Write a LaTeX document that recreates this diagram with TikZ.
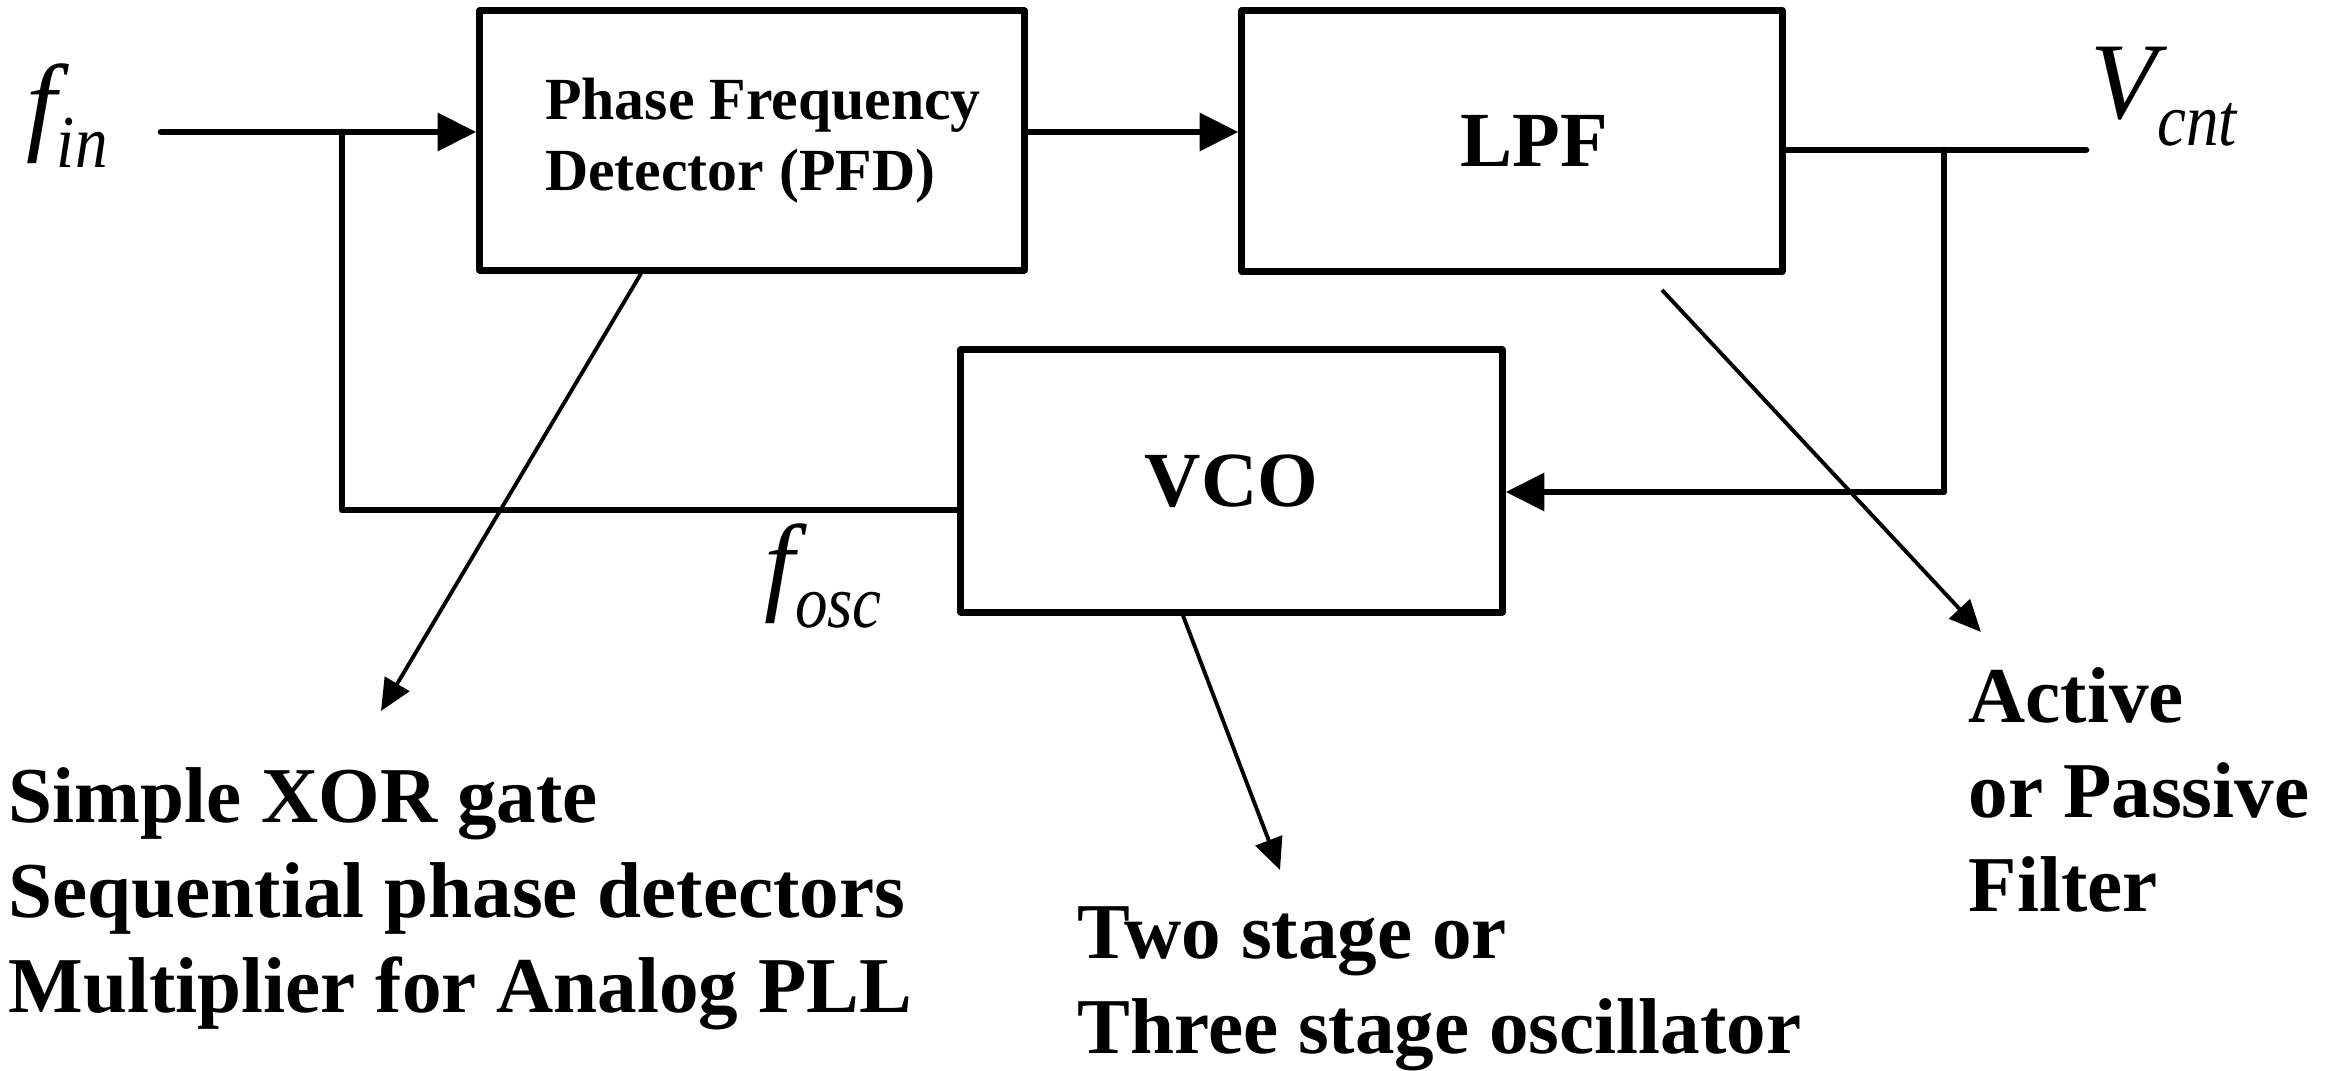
\documentclass[tikz,border=0pt]{standalone}
\usepackage{fontspec}
\setmainfont{Liberation Serif}
\usetikzlibrary{arrows.meta}
\newcommand{\subsc}[1]{\raisebox{-7.6pt}{\scalebox{1}[1.15]{\fontsize{18.5pt}{18.5pt}\selectfont\itshape #1}}}
\newcommand{\mainsym}[1]{{\fontsize{31pt}{31pt}\selectfont\itshape #1}}
\begin{document}
\begin{tikzpicture}[x=0.01cm,y=-0.01cm,
  blk/.style={draw, line width=2pt, line join=round, inner sep=0pt, align=center},
  sig/.style={line width=1.9pt, line cap=round, line join=round},
  arr/.style={-{Triangle[length=11pt,width=10.5pt]}},
  ann/.style={line width=1.1pt, -{Triangle[length=9pt,width=8pt]}},
  note/.style={inner sep=0pt, align=left, font=\fontsize{22.5pt}{27pt}\selectfont\bfseries},
  sym/.style={inner sep=0pt}
]
\useasboundingbox (0,0) rectangle (2337,1071);

% blocks
\node[blk, align=left, minimum width=5.44cm, minimum height=2.59cm,
      font=\fontsize{17pt}{20pt}\selectfont\bfseries] (pfd) at (752,140.5)
      {\hspace*{0.22cm}Phase Frequency\\\hspace*{0.22cm}Detector (PFD)};
\node[blk, minimum width=5.40cm, minimum height=2.60cm,
      font=\fontsize{22.2pt}{26pt}\selectfont\bfseries] (lpf) at (1512,141)
      {\hspace*{0.44cm}LPF};
\node[blk, minimum width=5.41cm, minimum height=2.62cm,
      font=\fontsize{22.2pt}{26pt}\selectfont\bfseries] (vco) at (1231.5,481)
      {VCO};

% points
\coordinate (fin) at (161,132);
\coordinate (j1) at (342,132);
\coordinate (j2) at (342,510);
\coordinate (j3) at (1944,150);
\coordinate (j4) at (1944,492);
\coordinate (vout) at (2086,150);

% signal lines
\draw[sig] (fin) -- (j1);
\draw[sig,arr] (j1) -- (pfd.west |- j1);
\draw[sig] (vco.west |- j2) -- (j2) -- (j1);
\draw[sig,arr] (pfd.east |- j1) -- (lpf.west |- j1);
\draw[sig] (lpf.east |- j3) -- (vout);
\draw[sig,arr] (j3) -- (j4) -- (vco.east |- j4);

% labels
\node[sym, anchor=base west] (lfin) at (26,141) {\mainsym{f}\subsc{in}};
\node[sym, anchor=base west] (lfosc) at (764,601) {\mainsym{f}\subsc{osc}};
\node[sym, anchor=base west] (lvcnt) at (2090,119) {\mainsym{V}\subsc{cnt}};

% annotation notes (base = last line)
\node[note, anchor=base west] (n1) at (8,1012)
  {Simple XOR gate\\Sequential phase detectors\\Multiplier for Analog PLL};
\node[note, anchor=base west] (n2) at (1077,1053)
  {Two stage or\\Three stage oscillator};
\node[note, anchor=base west] (n3) at (1968,912)
  {Active\\or Passive\\Filter};

% annotation arrows
\coordinate (a1s) at (pfd.south -| 641,0);
\coordinate (a1e) at (381,711);
\coordinate (a2s) at (1662,290);
\coordinate (a2e) at (1981,632);
\coordinate (a3s) at (vco.south -| 1183,0);
\coordinate (a3e) at (1280,870);
\draw[ann] (a1s) -- (a1e);
\draw[ann] (a2s) -- (a2e);
\draw[ann] (a3s) -- (a3e);
\end{tikzpicture}
\end{document}
